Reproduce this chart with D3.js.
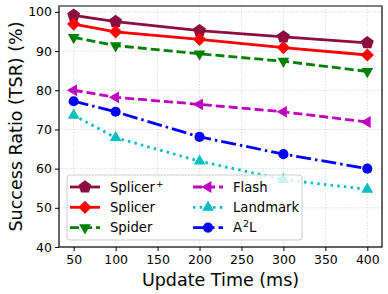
<!DOCTYPE html>
<html>
<head>
<meta charset="utf-8">
<script src="https://cdn.jsdelivr.net/npm/d3@7"></script>
<style>
  body { margin: 0; background: #fff; }
  svg { font-family: "DejaVu Sans", sans-serif; }
</style>
</head>
<body>
<svg width="388" height="294"></svg>
<script>
let updateTimes = [50, 100, 200, 300, 400];
let splicerPlus = [99.1, 97.5, 95.2, 93.6, 92.1];
let splicer = [96.9, 94.9, 93.0, 90.9, 89.0];
let spider = [93.5, 91.4, 89.3, 87.4, 84.8];
let flash = [80.0, 78.2, 76.4, 74.5, 71.9];
let landmark = [73.6, 67.9, 61.9, 57.2, 54.7];
let a2l = [77.2, 74.5, 68.1, 63.7, 60.0];
let xTicks = [50, 100, 150, 200, 250, 300, 350, 400];
let yTicks = [40, 50, 60, 70, 80, 90, 100];

let series = [
  { name: "Splicer", sup: "+", values: splicerPlus, color: "#8c0d40", marker: "pentagon", dash: null },
  { name: "Splicer", sup: null, values: splicer, color: "#ff0000", marker: "diamond", dash: null },
  { name: "Spider", sup: null, values: spider, color: "#008000", marker: "tridown", dash: "9,4" },
  { name: "Flash", sup: null, values: flash, color: "#bf00bf", marker: "trileft", dash: "9,4" },
  { name: "Landmark", sup: null, values: landmark, color: "#00bfbf", marker: "triup", dash: "2.5,4.2" },
  { name: "A", sup: "2", after: "L", values: a2l, color: "#0000ff", marker: "circle", dash: "15,4,2.5,4" }
];

let mLeft = 59, mRight = 382, mTop = 6, mBottom = 247;
let svg = d3.select("svg");

let x = d3.scaleLinear().domain([32.5, 417.5]).range([mLeft, mRight]);
let y = d3.scaleLinear().domain([40, 101.5]).range([mBottom, mTop]);

// grid
svg.append("g").selectAll("line").data(xTicks).enter().append("line")
    .attr("x1", (d) => x(d)).attr("x2", (d) => x(d))
    .attr("y1", mTop).attr("y2", mBottom)
    .attr("stroke", "#d4d4d4").attr("stroke-width", 0.8).attr("stroke-dasharray", "1.5,1.5");
svg.append("g").selectAll("line").data(yTicks).enter().append("line")
    .attr("x1", mLeft).attr("x2", mRight)
    .attr("y1", (d) => y(d)).attr("y2", (d) => y(d))
    .attr("stroke", "#d4d4d4").attr("stroke-width", 0.8).attr("stroke-dasharray", "1.5,1.5");

// axes
let xAxis = svg.append("g")
    .attr("transform", `translate(0,${mBottom})`)
    .call(d3.axisBottom(x).tickValues(xTicks).tickSize(4).tickPadding(4));
let yAxis = svg.append("g")
    .attr("transform", `translate(${mLeft},0)`)
    .call(d3.axisLeft(y).tickValues(yTicks).tickSize(4).tickPadding(3));
[xAxis, yAxis].forEach((a) => {
  a.select(".domain").remove();
  a.selectAll("text").attr("font-size", 12.5).attr("fill", "#000")
      .attr("font-family", "DejaVu Sans");
  a.selectAll("line").attr("stroke", "#000").attr("stroke-width", 1);
});

function markerPath(type) {
  function poly(n, r, rot) {
    let pts = d3.range(n).map((i) => {
      let a = rot + i * 2 * Math.PI / n;
      return [r * Math.cos(a), r * Math.sin(a)];
    });
    return "M" + pts.map((p) => p.join(",")).join("L") + "Z";
  }
  if (type === "pentagon") return poly(5, 6.8, -Math.PI / 2);
  if (type === "diamond") return poly(4, 6.6, -Math.PI / 2);
  if (type === "tridown") return poly(3, 6.8, Math.PI / 2);
  if (type === "triup") return poly(3, 6.8, -Math.PI / 2);
  if (type === "trileft") return poly(3, 6.8, Math.PI);
  return d3.symbol(d3.symbolCircle, 80)();
}

let line = d3.line()
    .x((d, i) => x(updateTimes[i]))
    .y((d) => y(d));

let plot = svg.append("g");
series.forEach((s) => {
  plot.append("path")
      .attr("d", line(s.values))
      .attr("fill", "none")
      .attr("stroke", s.color)
      .attr("stroke-width", 2.8)
      .attr("stroke-dasharray", s.dash);
  plot.selectAll(null).data(s.values).enter().append("path")
      .attr("d", markerPath(s.marker))
      .attr("transform", (d, i) => `translate(${x(updateTimes[i])},${y(d)})`)
      .attr("fill", s.color);
});

// frame
svg.append("rect")
    .attr("x", mLeft).attr("y", mTop)
    .attr("width", mRight - mLeft).attr("height", mBottom - mTop)
    .attr("fill", "none").attr("stroke", "#000").attr("stroke-width", 1.2);
svg.append("line")
    .attr("x1", mLeft).attr("x2", mRight).attr("y1", mTop).attr("y2", mTop)
    .attr("stroke", "#8a8a8a").attr("stroke-width", 1.6);

// legend
let legend = svg.append("g").attr("transform", "translate(67,175)");
legend.append("rect")
    .attr("width", 235).attr("height", 65).attr("rx", 3)
    .attr("fill", "#fff").attr("fill-opacity", 0.8)
    .attr("stroke", "#cccccc").attr("stroke-width", 1);
series.forEach((s, i) => {
  let col = Math.floor(i / 3), row = i % 3;
  let g = legend.append("g")
      .attr("transform", `translate(${3 + col * 123},${12 + row * 20.3})`);
  g.append("line")
      .attr("x1", 0).attr("x2", 30).attr("y1", 0).attr("y2", 0)
      .attr("stroke", s.color).attr("stroke-width", 2.8)
      .attr("stroke-dasharray", s.dash);
  g.append("path")
      .attr("d", markerPath(s.marker))
      .attr("transform", "translate(15,0)")
      .attr("fill", s.color);
  let t = g.append("text")
      .attr("x", 40).attr("y", 4.8)
      .attr("font-size", 13.2).attr("fill", "#000");
  t.append("tspan").text(s.name);
  if (s.sup) t.append("tspan").attr("dy", -5).attr("dx", 1).attr("font-size", 9.5).text(s.sup);
  if (s.after) t.append("tspan").attr("dy", 5).text(s.after);
});

// axis titles
svg.append("text")
    .attr("x", (mLeft + mRight) / 2).attr("y", 286)
    .attr("text-anchor", "middle").attr("font-size", 17.5)
    .text("Update Time (ms)");
svg.append("text")
    .attr("transform", `translate(22,${(mTop + mBottom) / 2}) rotate(-90)`)
    .attr("text-anchor", "middle").attr("font-size", 17.5)
    .text("Success Ratio (TSR) (%)");
</script>
</body>
</html>
